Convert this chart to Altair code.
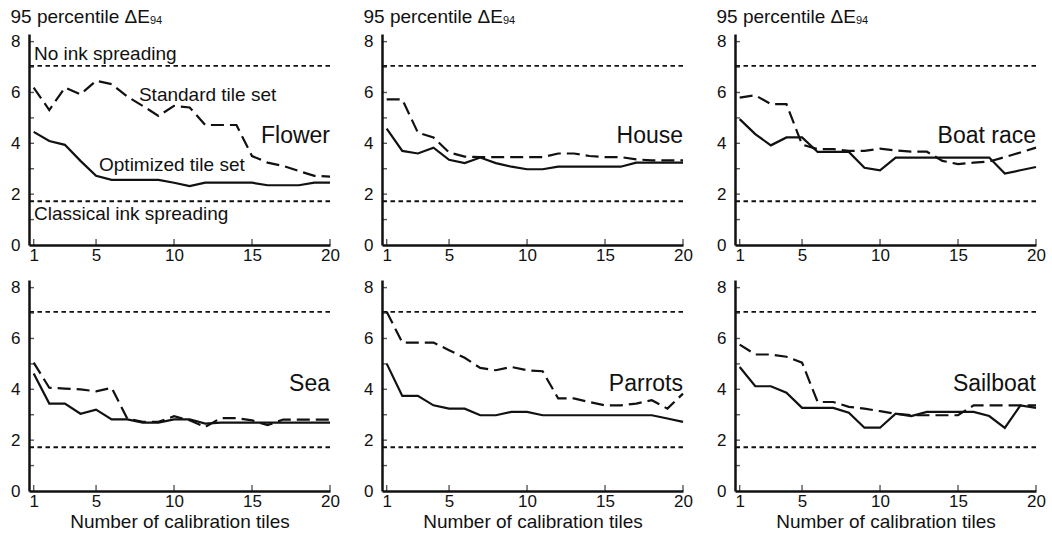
import altair as alt
import pandas as pd

# ---------------- data ----------------
tiles = list(range(1, 21))
image_names = ["Flower", "House", "Boat race", "Sea", "Parrots", "Sailboat"]

flower_standard = [6.19, 5.31, 6.19, 5.93, 6.46, 6.33, 5.84, 5.47, 5.08, 5.47,
                   5.41, 4.72, 4.72, 4.72, 3.50, 3.24, 3.11, 2.91, 2.72, 2.69]
flower_optimized = [4.45, 4.09, 3.94, 3.31, 2.72, 2.56, 2.56, 2.56, 2.56, 2.45,
                    2.32, 2.45, 2.45, 2.45, 2.45, 2.35, 2.35, 2.35, 2.45, 2.45]

house_standard = [5.73, 5.73, 4.42, 4.23, 3.64, 3.48, 3.46, 3.46, 3.46, 3.46,
                  3.46, 3.60, 3.60, 3.50, 3.46, 3.46, 3.37, 3.33, 3.33, 3.33]
house_optimized = [4.58, 3.70, 3.60, 3.83, 3.35, 3.22, 3.44, 3.22, 3.08, 2.98,
                   2.98, 3.08, 3.08, 3.08, 3.08, 3.08, 3.24, 3.24, 3.24, 3.24]

boat_standard = [5.80, 5.89, 5.54, 5.54, 3.95, 3.77, 3.77, 3.70, 3.70, 3.79,
                 3.72, 3.67, 3.67, 3.31, 3.18, 3.24, 3.28, 3.46, 3.64, 3.83]
boat_optimized = [4.95, 4.36, 3.92, 4.23, 4.23, 3.66, 3.66, 3.66, 3.04, 2.94,
                  3.44, 3.44, 3.44, 3.44, 3.44, 3.44, 3.44, 2.81, 2.94, 3.07]

sea_standard = [5.05, 4.06, 4.03, 4.00, 3.92, 4.06, 2.85, 2.72, 2.72, 2.94,
                2.78, 2.52, 2.87, 2.87, 2.78, 2.59, 2.81, 2.81, 2.81, 2.81]
sea_optimized = [4.62, 3.44, 3.44, 3.04, 3.20, 2.82, 2.82, 2.69, 2.69, 2.82,
                 2.82, 2.65, 2.69, 2.69, 2.69, 2.69, 2.69, 2.69, 2.69, 2.69]

parrots_standard = [7.05, 5.84, 5.84, 5.84, 5.54, 5.24, 4.84, 4.75, 4.88, 4.75,
                    4.71, 3.64, 3.64, 3.50, 3.37, 3.37, 3.44, 3.57, 3.24, 3.83]
parrots_optimized = [5.01, 3.74, 3.74, 3.37, 3.24, 3.24, 2.98, 2.98, 3.11, 3.11,
                     2.98, 2.98, 2.98, 2.98, 2.98, 2.98, 2.98, 2.98, 2.85, 2.72]

sailboat_standard = [5.76, 5.37, 5.37, 5.28, 5.05, 3.50, 3.50, 3.31, 3.24, 3.14,
                     3.04, 2.98, 2.98, 2.98, 2.98, 3.37, 3.37, 3.37, 3.37, 3.37]
sailboat_optimized = [4.88, 4.12, 4.12, 3.87, 3.27, 3.27, 3.27, 3.08, 2.49, 2.49,
                      3.04, 2.95, 3.11, 3.11, 3.11, 3.11, 2.95, 2.48, 3.37, 3.27]

standard_sets = [flower_standard, house_standard, boat_standard,
                 sea_standard, parrots_standard, sailboat_standard]
optimized_sets = [flower_optimized, house_optimized, boat_optimized,
                  sea_optimized, parrots_optimized, sailboat_optimized]

reference_levels = [7.05, 1.72]          # no ink spreading / classical ink spreading
x_tick_values = [1, 5, 10, 15, 20]
y_label_values = [0, 2, 4, 6, 8]
y_tick_values = [1, 2, 3, 4, 5, 6, 7, 8]

y_title_main = "95 percentile \u0394E"
y_title_sub = "94"
x_title = "Number of calibration tiles"
annotation_texts = ["No ink spreading", "Standard tile set",
                    "Optimized tile set", "Classical ink spreading"]

# ---------------- styling ----------------
FONT = "Liberation Sans"
INK = "#111111"
W, H = 301, 211
X_MIN, X_MAX = 0.7, 20
Y_MIN, Y_MAX = 0, 8.3
XS = alt.Scale(domain=[X_MIN, X_MAX], nice=False, zero=False)
YS = alt.Scale(domain=[Y_MIN, Y_MAX], nice=False)


def x_axis(with_title):
    kw = dict(values=x_tick_values, ticks=False, grid=False, labelPadding=2,
              labelFlush=False, labelOverlap=False, domainColor=INK, domainWidth=2.5,
              labelFont=FONT, labelFontSize=17, labelColor=INK)
    if with_title:
        kw.update(title=x_title, titleFont=FONT, titleFontSize=19,
                  titleFontWeight="normal", titleColor=INK, titlePadding=3)
    else:
        kw.update(title="")
    return alt.Axis(**kw)


Y_AXIS = alt.Axis(values=y_label_values, ticks=False, grid=False, labelPadding=9,
                  labelFlush=False, labelOverlap=False, domainColor=INK,
                  domainWidth=2.5, labelFont=FONT, labelFontSize=17,
                  labelColor=INK, title="")


def text_layer(txt, x_enc, y_enc, size, align="left", baseline="middle"):
    return alt.Chart(pd.DataFrame({"t": [txt]})).mark_text(
        align=align, baseline=baseline, font=FONT, fontSize=size, color=INK
    ).encode(x=x_enc, y=y_enc, text="t:N")


def panel(idx):
    name = image_names[idx]
    top = idx < 3
    XA = x_axis(not top)
    df = pd.DataFrame({"tiles": tiles,
                       "standard": standard_sets[idx],
                       "optimized": optimized_sets[idx]})
    base = alt.Chart(df)

    refs = alt.Chart(pd.DataFrame({"level": reference_levels})).mark_rule(
        color=INK, strokeWidth=1.8, strokeDash=[4.5, 3.5]
    ).encode(y=alt.Y("level:Q", scale=YS, axis=Y_AXIS))

    std_line = base.mark_line(color=INK, strokeWidth=2.2, strokeDash=[13, 6]).encode(
        x=alt.X("tiles:Q", scale=XS, axis=XA),
        y=alt.Y("standard:Q", scale=YS, axis=Y_AXIS),
    )
    opt_line = base.mark_line(color=INK, strokeWidth=2.2).encode(
        x=alt.X("tiles:Q", scale=XS, axis=XA),
        y=alt.Y("optimized:Q", scale=YS, axis=Y_AXIS),
    )

    ytk = alt.Chart(pd.DataFrame({"v": y_tick_values})).mark_tick(
        orient="horizontal", size=5, thickness=1.4, color=INK, xOffset=2.5
    ).encode(x=alt.XDatum(X_MIN, scale=XS, axis=XA),
             y=alt.Y("v:Q", scale=YS, axis=Y_AXIS))
    xtk = alt.Chart(pd.DataFrame({"v": x_tick_values})).mark_tick(
        orient="vertical", size=6, thickness=1.4, color=INK, yOffset=-3
    ).encode(x=alt.X("v:Q", scale=XS, axis=XA),
             y=alt.YDatum(Y_MIN, scale=YS, axis=Y_AXIS))

    label = text_layer(name, alt.XDatum(X_MAX, scale=XS, axis=XA),
                       alt.YDatum(4.29 if top else 4.21, scale=YS, axis=Y_AXIS),
                       23, align="right")

    layers = [refs, std_line, opt_line, ytk, xtk, label]

    if top:
        layers.append(text_layer(y_title_main, alt.value(-18.5), alt.value(-11.5), 19,
                                 baseline="alphabetic"))
        layers.append(text_layer(y_title_sub, alt.value(121), alt.value(-10.5), 11,
                                 baseline="alphabetic"))

    if idx == 0:
        anchors = [(1.02, 7.51), (7.75, 5.90), (5.19, 3.15), (1.02, 1.22)]
        for txt, (ax, ay) in zip(annotation_texts, anchors):
            layers.append(text_layer(txt, alt.XDatum(ax, scale=XS, axis=XA),
                                     alt.YDatum(ay, scale=YS, axis=Y_AXIS), 19))

    return alt.layer(*layers).properties(width=W, height=H)


top_row = alt.hconcat(panel(0), panel(1), panel(2), spacing=23)
bottom_row = alt.hconcat(panel(3), panel(4), panel(5), spacing=23)

chart = alt.vconcat(top_row, bottom_row, spacing=15).properties(
    padding={"left": 10, "top": 7, "right": 0, "bottom": 0},
    background="white",
).configure_view(strokeWidth=0)

chart.save("out.html", embed_options={"renderer": "svg", "actions": False})
